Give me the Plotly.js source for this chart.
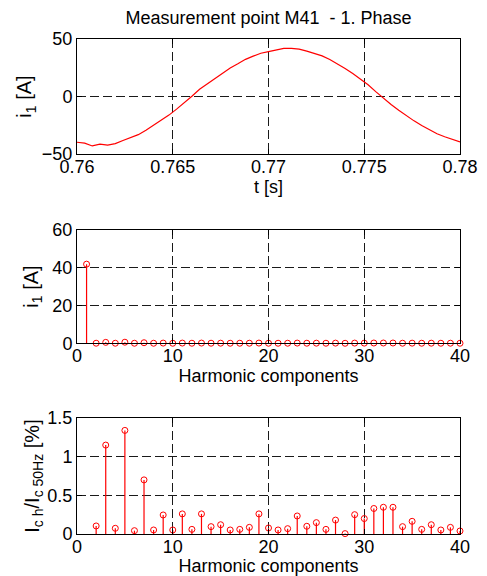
<!DOCTYPE html>
<html>
<head>
<meta charset="utf-8">
<script src="https://cdn.plot.ly/plotly-3.0.1.min.js"></script>
<style>html,body{margin:0;padding:0;background:#fff;}</style>
</head>
<body>
<div id="chart" style="width:487px;height:576px;"></div>
<script>
// ---- Data ----
const timeS = [0.7600,0.7604,0.7608,0.7612,0.7616,0.7620,0.7624,0.7628,0.7632,0.7636,
               0.7640,0.7644,0.7648,0.7652,0.7656,0.7660,0.7664,0.7668,0.7672,0.7676,
               0.7680,0.7684,0.7688,0.7692,0.7696,0.7700,0.7704,0.7708,0.7712,0.7716,
               0.7720,0.7724,0.7728,0.7732,0.7736,0.7740,0.7744,0.7748,0.7752,0.7756,
               0.7760,0.7764,0.7768,0.7772,0.7776,0.7780,0.7784,0.7788,0.7792,0.7796,0.7800];
const currentA = [-39.8,-40.6,-43.0,-41.5,-42.2,-41.0,-38.3,-36.0,-33.2,-29.4,
                  -25.2,-21.0,-16.2,-11.0,-5.6,0.2,6.3,10.9,15.6,20.4,
                  24.8,28.4,32.3,35.1,37.6,39.0,40.4,41.8,41.9,41.2,
                  39.4,37.6,35.3,32.2,28.6,24.4,19.9,15.1,10.2,4.2,
                  -1.6,-7.0,-12.0,-16.8,-21.2,-25.3,-29.0,-32.4,-35.0,-37.4,-39.5];

const harmonicOrder = [1,2,3,4,5,6,7,8,9,10,11,12,13,14,15,16,17,18,19,20,
                       21,22,23,24,25,26,27,28,29,30,31,32,33,34,35,36,37,38,39,40];
const harmonicAmpA = [41.8,0.04,0.48,0.03,0.56,0.02,0.29,0.02,0.10,0.02,
                      0.11,0.03,0.11,0.04,0.05,0.02,0.03,0.04,0.11,0.03,
                      0.02,0.03,0.10,0.04,0.06,0.03,0.08,0.00,0.10,0.08,
                      0.14,0.14,0.14,0.04,0.07,0.03,0.05,0.02,0.04,0.02];

const ratioOrder = [2,3,4,5,6,7,8,9,10,11,12,13,14,15,16,17,18,19,20,
                    21,22,23,24,25,26,27,28,29,30,31,32,33,34,35,36,37,38,39,40];
const ratioPct = [0.104,1.15,0.074,1.34,0.043,0.70,0.052,0.246,0.052,0.26,
                  0.06,0.26,0.095,0.12,0.052,0.06,0.086,0.26,0.078,0.052,
                  0.069,0.233,0.10,0.147,0.06,0.18,0.005,0.25,0.20,0.33,
                  0.346,0.346,0.095,0.164,0.06,0.12,0.052,0.086,0.039];

const timeTicks = [0.76,0.765,0.77,0.775,0.78];
const timeTickText = ['0.76','0.765','0.77','0.775','0.78'];
const currentTicks = [-50,0,50];
const harmTicks = [0,10,20,30,40];
const ampTicks = [0,20,40,60];
const ratioTicks = [0,0.5,1,1.5];
const ratioTickText = ['0','0.5','1','1.5'];

const titleText = 'Measurement point M41&nbsp; - 1. Phase';

// ---- Styling ----
const FONT = 'Arial, "Liberation Sans", sans-serif';
const RED = '#ff0000';
const TICK_SIZE = 18;
const YTITLE_SIZE = 20;

function stemTrace(x, y, xa, ya) {
  return {
    type: 'scatter', mode: 'markers', x: x, y: y, xaxis: xa, yaxis: ya,
    cliponaxis: false,
    marker: {symbol: 'circle-open', size: 6, color: RED, line: {width: 1, color: RED}},
    error_y: {type: 'data', symmetric: false, array: y.map(() => 0), arrayminus: y,
              width: 0, color: RED, thickness: 1.2},
    hoverinfo: 'x+y'
  };
}

const traces = [
  {type: 'scatter', mode: 'lines', x: timeS, y: currentA, xaxis: 'x', yaxis: 'y',
   line: {color: RED, width: 1.2}},
  stemTrace(harmonicOrder, harmonicAmpA, 'x2', 'y2'),
  stemTrace(ratioOrder, ratioPct, 'x3', 'y3')
];

function axisBase(extra) {
  return Object.assign({
    showline: true, linecolor: '#000', linewidth: 1, mirror: 'ticks',
    ticks: 'inside', ticklen: 5, tickcolor: '#000', tickwidth: 1,
    showgrid: true, gridcolor: '#1a1a1a', gridwidth: 1, griddash: '9px,4px',
    zeroline: false, tickfont: {size: TICK_SIZE, color: '#000', family: FONT},
    fixedrange: true
  }, extra);
}

const layout = {
  width: 487, height: 576,
  paper_bgcolor: '#fff', plot_bgcolor: '#fff',
  showlegend: false,
  margin: {l: 77, r: 27, t: 39, b: 42, pad: 0},
  font: {family: FONT, size: 18, color: '#000'},
  title: {text: titleText, xref: 'paper', x: 0.5, xanchor: 'center',
          yref: 'container', y: 1 - 18/576, yanchor: 'middle',
          font: {size: 18, family: FONT, color: '#000'}},
  xaxis: axisBase({domain: [0, 1], anchor: 'y', range: [0.76, 0.78],
                   tickvals: timeTicks, ticktext: timeTickText, ticklabelstandoff: -4,
                   title: {text: 't [s]', standoff: 0, font: {size: 18}}}),
  yaxis: axisBase({domain: [0.7677, 1], anchor: 'x', range: [-50, 50],
                   tickvals: currentTicks,
                   title: {text: 'i<sub>1</sub> [A]', standoff: 4, font: {size: YTITLE_SIZE}}}),
  xaxis2: axisBase({domain: [0, 1], anchor: 'y2', range: [0, 40], tickvals: harmTicks,
                    ticklabelstandoff: -4,
                    title: {text: 'Harmonic components', standoff: 0, font: {size: 18}}}),
  yaxis2: axisBase({domain: [0.3853, 0.6147], anchor: 'x2', range: [0, 60], tickvals: ampTicks,
                    title: {text: 'i<sub>1</sub> [A]', standoff: 8, font: {size: YTITLE_SIZE}}}),
  xaxis3: axisBase({domain: [0, 1], anchor: 'y3', range: [0, 40], tickvals: harmTicks,
                    ticklabelstandoff: -4,
                    title: {text: 'Harmonic components', standoff: 0, font: {size: 18}}}),
  yaxis3: axisBase({domain: [0, 0.2343], anchor: 'x3', range: [0, 1.5],
                    tickvals: ratioTicks, ticktext: ratioTickText,
                    title: {text: 'I<sub>c h</sub>/I<sub>c 50Hz</sub> [%]', standoff: 2, font: {size: YTITLE_SIZE}}})
};

Plotly.newPlot('chart', traces, layout, {displayModeBar: false, staticPlot: true});
</script>
</body>
</html>
